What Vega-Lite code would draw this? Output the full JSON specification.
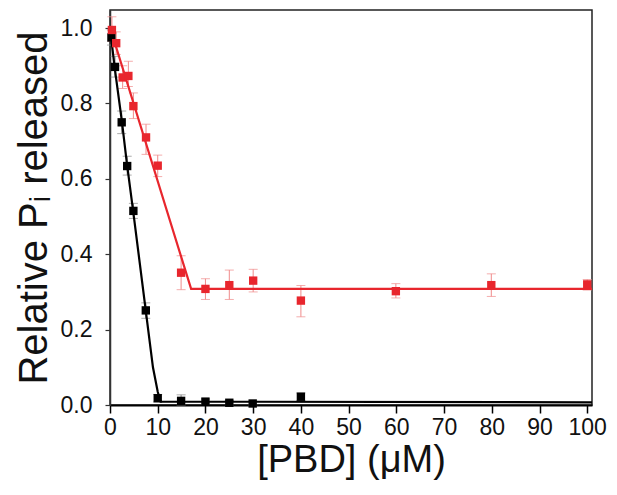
{
  "$schema": "https://vega.github.io/schema/vega-lite/v6.json",
  "autosize": "none",
  "width": 482,
  "height": 395,
  "padding": {"left": 110, "top": 10, "right": 25, "bottom": 90},
  "background": "white",
  "config": {
    "view": {"stroke": "#222", "strokeWidth": 1.5},
    "font": "Liberation Sans"
  },
  "datasets": {
    "pts": [
      {"series": "black", "x": 0.3, "y": 0.975, "lo": 0.955, "hi": 0.995},
      {"series": "black", "x": 1.05, "y": 0.897, "lo": 0.87, "hi": 0.925},
      {"series": "black", "x": 2.45, "y": 0.75, "lo": 0.72, "hi": 0.78},
      {"series": "black", "x": 3.6, "y": 0.634, "lo": 0.61, "hi": 0.66},
      {"series": "black", "x": 4.9, "y": 0.515, "lo": 0.495, "hi": 0.535},
      {"series": "black", "x": 7.5, "y": 0.251, "lo": 0.23, "hi": 0.271},
      {"series": "black", "x": 10, "y": 0.018, "lo": 0.008, "hi": 0.028},
      {"series": "black", "x": 14.9, "y": 0.011, "lo": 0.0, "hi": 0.027},
      {"series": "black", "x": 20, "y": 0.009, "lo": 0.002, "hi": 0.016},
      {"series": "black", "x": 25, "y": 0.006, "lo": 0.0, "hi": 0.012},
      {"series": "black", "x": 29.9, "y": 0.004, "lo": 0.0, "hi": 0.01},
      {"series": "black", "x": 40, "y": 0.022, "lo": 0.012, "hi": 0.032},
      {"series": "red", "x": 0.4, "y": 0.995, "lo": 0.965, "hi": 1.03},
      {"series": "red", "x": 1.3, "y": 0.96, "lo": 0.93, "hi": 0.99},
      {"series": "red", "x": 2.65, "y": 0.869, "lo": 0.84, "hi": 0.9},
      {"series": "red", "x": 3.85, "y": 0.873, "lo": 0.845, "hi": 0.912},
      {"series": "red", "x": 4.9, "y": 0.793, "lo": 0.76, "hi": 0.828},
      {"series": "red", "x": 7.55, "y": 0.71, "lo": 0.665, "hi": 0.745},
      {"series": "red", "x": 10, "y": 0.635, "lo": 0.606, "hi": 0.663},
      {"series": "red", "x": 14.9, "y": 0.351, "lo": 0.306, "hi": 0.396},
      {"series": "red", "x": 20, "y": 0.308, "lo": 0.28, "hi": 0.335},
      {"series": "red", "x": 25, "y": 0.318, "lo": 0.28, "hi": 0.358},
      {"series": "red", "x": 30, "y": 0.33, "lo": 0.3, "hi": 0.36},
      {"series": "red", "x": 40, "y": 0.277, "lo": 0.234, "hi": 0.317},
      {"series": "red", "x": 59.9, "y": 0.302, "lo": 0.284, "hi": 0.322},
      {"series": "red", "x": 79.9, "y": 0.318, "lo": 0.288, "hi": 0.348},
      {"series": "red", "x": 100, "y": 0.32, "lo": 0.305, "hi": 0.333}
    ],
    "fit": [
      {"series": "black", "x": 0, "y": 1.0},
      {"series": "black", "x": 1, "y": 0.893},
      {"series": "black", "x": 2.5, "y": 0.752},
      {"series": "black", "x": 3.5, "y": 0.645},
      {"series": "black", "x": 5, "y": 0.5},
      {"series": "black", "x": 7.5, "y": 0.25},
      {"series": "black", "x": 9, "y": 0.1},
      {"series": "black", "x": 10, "y": 0.035},
      {"series": "black", "x": 10.6, "y": 0.009},
      {"series": "black", "x": 101, "y": 0.007},
      {"series": "red", "x": 0, "y": 1.002},
      {"series": "red", "x": 17, "y": 0.308},
      {"series": "red", "x": 101, "y": 0.308}
    ]
  },
  "layer": [
    {
      "data": {"name": "pts"},
      "mark": {"type": "rule", "strokeWidth": 1},
      "encoding": {
        "x": {"field": "x", "type": "quantitative"},
        "y": {"field": "lo", "type": "quantitative"},
        "y2": {"field": "hi"},
        "color": {"field": "series", "type": "nominal", "scale": {"domain": ["black", "red"], "range": ["#888888", "#f08a8a"]}, "legend": null}
      }
    },
    {
      "data": {"name": "pts"},
      "mark": {"type": "tick", "orient": "horizontal", "size": 9, "thickness": 1},
      "encoding": {
        "x": {"field": "x", "type": "quantitative"},
        "y": {"field": "lo", "type": "quantitative"},
        "color": {"field": "series", "type": "nominal", "scale": {"domain": ["black", "red"], "range": ["#888888", "#f08a8a"]}, "legend": null}
      }
    },
    {
      "data": {"name": "pts"},
      "mark": {"type": "tick", "orient": "horizontal", "size": 9, "thickness": 1},
      "encoding": {
        "x": {"field": "x", "type": "quantitative"},
        "y": {"field": "hi", "type": "quantitative"},
        "color": {"field": "series", "type": "nominal", "scale": {"domain": ["black", "red"], "range": ["#888888", "#f08a8a"]}, "legend": null}
      }
    },
    {
      "data": {"name": "fit"},
      "mark": {"type": "line", "strokeWidth": 2.2, "clip": true},
      "encoding": {
        "x": {"field": "x", "type": "quantitative"},
        "y": {"field": "y", "type": "quantitative"},
        "detail": {"field": "series"},
        "color": {"field": "series", "type": "nominal", "scale": {"domain": ["black", "red"], "range": ["#000000", "#e8262d"]}, "legend": null}
      }
    },
    {
      "data": {"name": "pts"},
      "mark": {"type": "point", "shape": "square", "filled": true, "size": 70, "opacity": 1},
      "encoding": {
        "x": {
          "field": "x", "type": "quantitative",
          "scale": {"domain": [0, 101], "nice": false, "zero": false},
          "axis": {
            "title": "[PBD] (μM)",
            "titleFont": "Liberation Sans", "titleFontSize": 38, "titleFontWeight": "normal", "titleColor": "#111", "titlePadding": 2,
            "values": [0,5,10,15,20,25,30,35,40,45,50,55,60,65,70,75,80,85,90,95,100],
            "labelExpr": "datum.value % 10 === 0 ? datum.label : ''",
            "format": "d",
            "labelFont": "Liberation Sans", "labelFontSize": 23, "labelColor": "#111", "labelPadding": 3,
            "tickSize": {"condition": {"test": "datum.value % 10 === 0", "value": 8}, "value": 5},
            "tickColor": "#000", "tickWidth": 1.5,
            "domainColor": "#000", "domainWidth": 2,
            "grid": false, "labelFlush": false, "labelOverlap": false
          }
        },
        "y": {
          "field": "y", "type": "quantitative",
          "scale": {"domain": [0, 1.048], "nice": false, "zero": false},
          "axis": {
            "title": "Relative Pᵢ released",
            "titleFont": "Liberation Sans", "titleFontSize": 40, "titleFontWeight": "normal", "titleColor": "#111", "titlePadding": 6,
            "values": [0,0.1,0.2,0.3,0.4,0.5,0.6,0.7,0.8,0.9,1.0],
            "labelExpr": "round(datum.value*10) % 2 === 0 ? format(datum.value, '.1f') : ''",
            "labelFont": "Liberation Sans", "labelFontSize": 23, "labelColor": "#111", "labelPadding": 13,
            "tickSize": 5, "tickColor": "#333", "tickWidth": 1.2,
            "domainColor": "#333", "domainWidth": 1.5,
            "grid": false, "labelFlush": false, "labelOverlap": false
          }
        },
        "color": {"field": "series", "type": "nominal", "scale": {"domain": ["black", "red"], "range": ["#000000", "#e8262d"]}, "legend": null}
      }
    }
  ],
  "resolve": {"scale": {"color": "independent"}}
}
